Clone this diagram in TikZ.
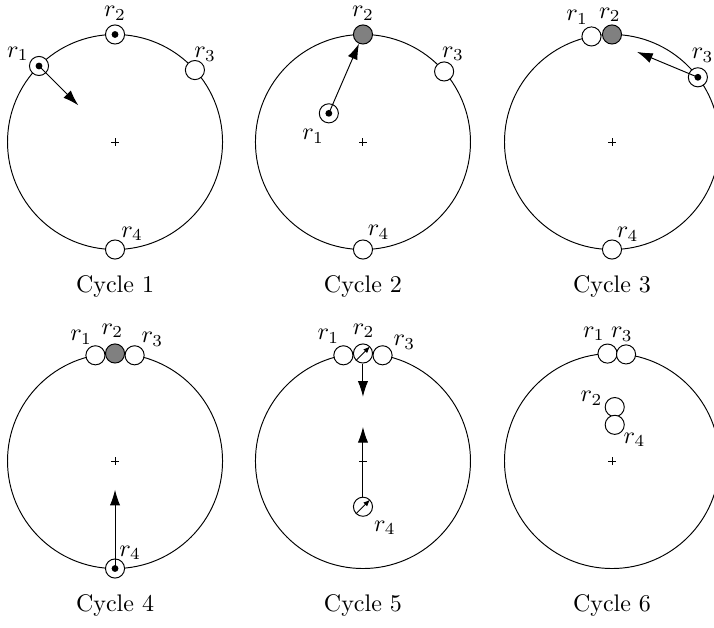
\documentclass[tikz,border=0pt]{standalone}
\usetikzlibrary{arrows.meta, positioning}

\begin{document}
\begin{tikzpicture}[
    % Define robot styles
    robot/.style={
        circle,
        draw=black,
        fill=white,
        minimum size=0.28cm,
        inner sep=0pt
    },
    active/.style={
        robot,
        path picture={\fill[black] (path picture bounding box.center) circle (0.05);}
    },
    leader/.style={robot, fill=gray},
    tag/.style={inner sep=0pt},
    motion/.style={-{Latex[length=2.3mm, width=1.5mm]}},
    beam/.style={-{Latex[length=1mm, width=0.8mm]}}
]
    \useasboundingbox (0, 0) rectangle (10.459, -9.199);

    % --- Ring, centre mark and caption of every cycle ---
    \foreach \cx/\cy/\n in {1.685/-2.080/1, 5.317/-2.080/2, 8.965/-2.080/3,
                            1.685/-6.753/4, 5.317/-6.753/5, 8.965/-6.753/6} {
        \draw (\cx, \cy) circle (1.575);
        \draw (\cx-0.055, \cy) -- (\cx+0.055, \cy) (\cx, \cy-0.055) -- (\cx, \cy+0.055);
        \node (cap\n) at (\cx, \cy-2.11) {Cycle \n};
    }

    % =================================================================
    % --- TOP ROW ---
    % =================================================================
    % Cycle 1
    \begin{scope}[shift={(1.685, -2.080)}]
        \node[active] (r1a) at (135:1.575) {};
        \node[active] (r2a) at (90:1.575) {};
        \node[robot] (r3a) at (42:1.575) {};
        \node[robot] (r4a) at (270:1.575) {};
        \coordinate (t1a) at (135:0.76);
        \draw[motion] (r1a.center) -- (t1a);
        \node[tag] (l1a) at ([shift={(-0.31, 0.18)}]r1a) {$r_1$};
        \node[tag] (l2a) at ([shift={(0, 0.31)}]r2a) {$r_2$};
        \node[tag] (l3a) at ([shift={(0.15, 0.23)}]r3a) {$r_3$};
        \node[tag] (l4a) at ([shift={(0.25, 0.23)}]r4a) {$r_4$};
    \end{scope}

    % Cycle 2
    \begin{scope}[shift={(5.317, -2.080)}]
        \node[active] (r1b) at (-0.50, 0.42) {};
        \node[leader] (r2b) at (90:1.575) {};
        \node[robot] (r3b) at (41:1.575) {};
        \node[robot] (r4b) at (270:1.575) {};
        \draw[motion] (r1b.center) -- (r2b);
        \node[tag] (l1b) at ([shift={(-0.23, -0.34)}]r1b) {$r_1$};
        \node[tag] (l2b) at ([shift={(0, 0.31)}]r2b) {$r_2$};
        \node[tag] (l3b) at ([shift={(0.13, 0.26)}]r3b) {$r_3$};
        \node[tag] (l4b) at ([shift={(0.23, 0.25)}]r4b) {$r_4$};
    \end{scope}

    % Cycle 3
    \begin{scope}[shift={(8.965, -2.080)}]
        \node[robot] (r1c) at (101:1.575) {};
        \node[leader] (r2c) at (90:1.575) {};
        \node[active] (r3c) at (37:1.575) {};
        \node[robot] (r4c) at (270:1.575) {};
        \coordinate (t3c) at (74.5:1.37);
        \draw[motion] (r3c.center) -- (t3c);
        \node[tag] (l1c) at ([shift={(-0.21, 0.28)}]r1c) {$r_1$};
        \node[tag] (l2c) at ([shift={(-0.03, 0.29)}]r2c) {$r_2$};
        \node[tag] (l3c) at ([shift={(0.07, 0.32)}]r3c) {$r_3$};
        \node[tag] (l4c) at ([shift={(0.23, 0.22)}]r4c) {$r_4$};
    \end{scope}

    % =================================================================
    % --- BOTTOM ROW ---
    % =================================================================
    % Cycle 4
    \begin{scope}[shift={(1.685, -6.753)}]
        \node[robot] (r1d) at (100.5:1.575) {};
        \node[leader] (r2d) at (90:1.575) {};
        \node[robot] (r3d) at (79.5:1.575) {};
        \node[active] (r4d) at (270:1.575) {};
        \coordinate (t4d) at (0, -0.42);
        \draw[motion] (r4d.center) -- (t4d);
        \node[tag] (l1d) at ([shift={(-0.21, 0.26)}]r1d) {$r_1$};
        \node[tag] (l2d) at ([shift={(-0.04, 0.33)}]r2d) {$r_2$};
        \node[tag] (l3d) at ([shift={(0.26, 0.23)}]r3d) {$r_3$};
        \node[tag] (l4d) at ([shift={(0.22, 0.23)}]r4d) {$r_4$};
    \end{scope}

    % Cycle 5
    \begin{scope}[shift={(5.317, -6.753)}]
        \node[robot] (r1e) at (100.5:1.575) {};
        \node[robot] (r2e) at (90:1.575) {};
        \node[robot] (r3e) at (79.5:1.575) {};
        \node[robot] (r4e) at (0, -0.67) {};
        \draw[beam] (r2e.south west) -- (r2e.north east);
        \draw[beam] (r4e.south west) -- (r4e.north east);
        \coordinate (t2e) at (0, 0.94);
        \coordinate (t4e) at (0, 0.50);
        \draw[motion] (r2e.south) -- (t2e);
        \draw[motion] (r4e.north) -- (t4e);
        \node[tag] (l1e) at ([shift={(-0.22, 0.28)}]r1e) {$r_1$};
        \node[tag] (l2e) at ([shift={(0.01, 0.33)}]r2e) {$r_2$};
        \node[tag] (l3e) at ([shift={(0.32, 0.19)}]r3e) {$r_3$};
        \node[tag] (l4e) at ([shift={(0.32, -0.31)}]r4e) {$r_4$};
    \end{scope}

    % Cycle 6
    \begin{scope}[shift={(8.965, -6.753)}]
        \node[robot] (r1f) at (92.4:1.575) {};
        \node[robot] (r3f) at (82.5:1.575) {};
        \node[robot] (r2f) at (0.04, 0.79) {};
        \node[robot] (r4f) at (0.04, 0.53) {};
        \node[tag] (l1f) at ([shift={(-0.20, 0.29)}]r1f) {$r_1$};
        \node[tag] (l3f) at ([shift={(-0.06, 0.29)}]r3f) {$r_3$};
        \node[tag] (l2f) at ([shift={(-0.34, 0.13)}]r2f) {$r_2$};
        \node[tag] (l4f) at ([shift={(0.29, -0.22)}]r4f) {$r_4$};
    \end{scope}
\end{tikzpicture}
\end{document}
